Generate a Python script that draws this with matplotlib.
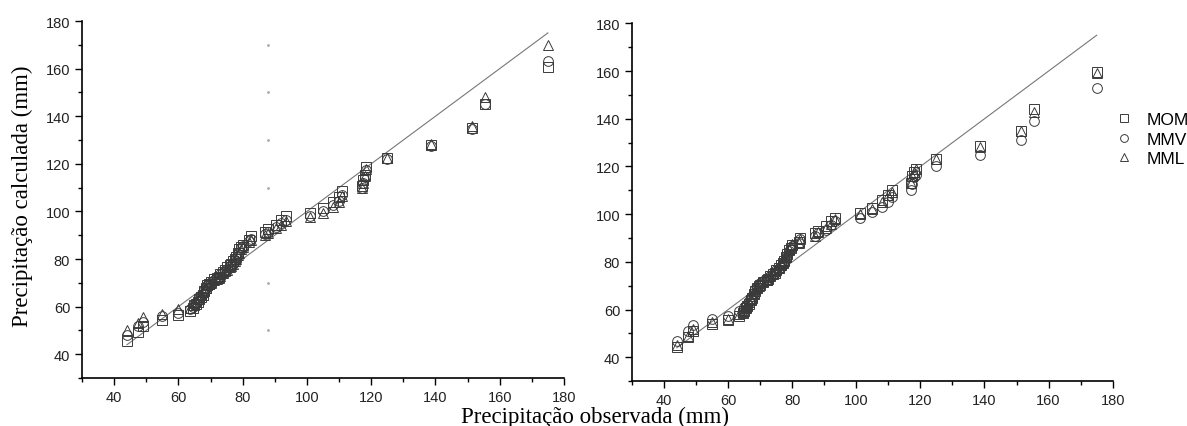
import numpy as np
import matplotlib.pyplot as plt
import matplotlib as mpl
from matplotlib.ticker import MultipleLocator

mpl.rcParams["font.family"] = ["Liberation Sans", "DejaVu Sans"]

# observed precipitation (mm), sorted
obs = [44.0, 47.5, 49.0, 55.0, 60.0, 63.5, 64.5, 65.0, 65.5, 66.0,
       66.5, 67.0, 67.5, 68.0, 68.5, 69.0, 69.5, 70.0, 71.0, 72.0,
       72.5, 73.0, 74.0, 74.5, 75.0, 76.0, 76.5, 77.0, 77.5, 78.0,
       78.5, 79.0, 79.5, 80.0, 82.0, 82.5, 87.0, 88.0, 90.5, 92.0,
       93.5, 101.0, 105.0, 108.0, 110.0, 111.0, 117.0, 117.5, 118.0, 118.5,
       125.0, 138.5, 151.5, 155.5, 175.0]

# left panel - calculated precipitation
left_mom = [45.5, 49.5, 52, 54.5, 56.5, 58, 59.5, 60.5, 61, 62,
            63, 64, 65, 66.5, 68, 69, 69.5, 70.5, 71.5, 72,
            72.5, 73.5, 74.5, 75.5, 76.5, 77.5, 78, 79, 80, 81,
            82.5, 84, 85, 86, 88, 89.5, 91.5, 92.5, 94.5, 96.5,
            98, 99.5, 101.5, 104, 106, 108.5, 110.5, 113, 115.5, 118.5,
            122.5, 128, 135, 145, 160.5]
left_mmv = [48, 52, 53.5, 56, 57.5, 59, 60, 61, 61.5, 62.5,
            63.5, 64.5, 65.5, 67, 68, 69, 69.5, 70.5, 71, 72,
            72.5, 73.5, 74.5, 75, 76, 77, 77.5, 78.5, 79.5, 80.5,
            82, 83, 84.5, 85.5, 87.5, 88.5, 90.5, 91.5, 93.5, 95,
            96.5, 98, 100, 102.5, 104.5, 107, 110, 112, 114.5, 117.5,
            122, 127.5, 134.5, 145, 163]
left_mml = [50, 53, 55.5, 57, 59, 59.5, 60.5, 61.5, 62, 63,
            64, 65, 66, 67, 68, 69, 69.5, 70, 71, 71.5,
            72, 73, 74, 75, 75.5, 76.5, 77, 78, 79, 80,
            81.5, 82.5, 84, 85, 87, 88, 90, 91, 93, 94.5,
            96, 97.5, 99.5, 102, 104, 106.5, 110, 112, 115, 118,
            122.5, 128.5, 136, 148, 170]

# right panel - calculated precipitation
right_mom = [44.5, 48.5, 51, 54, 55.5, 57.5, 58.5, 59.5, 60.5, 61.5,
             62.5, 64, 65, 66.5, 68, 69, 70, 70.5, 71.5, 72.5,
             73, 74, 75, 75.5, 76.5, 77.5, 78.5, 79.5, 80.5, 82,
             83.5, 85, 86, 87, 88.5, 90, 92, 93, 95, 97,
             98.5, 100.5, 102.5, 106, 108, 110, 113, 116, 117.5, 119,
             123, 128.5, 135, 144, 159.5]
right_mmv = [47, 51, 53.5, 56, 57.5, 59.5, 60, 61, 61.5, 62.5,
             63.5, 64.5, 65.5, 67, 68.5, 69.5, 70.5, 71, 72, 72.5,
             73, 74, 75, 75.5, 76.5, 77, 78, 79, 80, 81.5,
             83, 84.5, 85.5, 86.5, 88, 89.5, 91, 92, 93.5, 95.5,
             97, 98.5, 101, 103, 105, 107, 110, 112.5, 115.5, 116.5,
             120, 125, 131, 139, 153]
right_mml = [45, 49, 52, 55, 56, 58, 59, 60, 61, 62,
             63, 64.5, 65.5, 67, 68.5, 69.5, 70.5, 71, 72, 72.5,
             73.5, 74.5, 75.5, 76, 77, 78, 79, 80, 81, 82.5,
             84, 85.5, 86.5, 87.5, 88, 89.5, 91, 92.5, 94, 96,
             98, 100, 102, 105, 108, 109.5, 113, 116, 117.5, 119,
             123, 128, 135, 143, 159]

labels = ["MOM", "MMV", "MML"]
markers = ["s", "o", "^"]
line_x = [44, 175]

# dotted artefact line in left panel
art_x = 88
art_y = [50, 70, 90, 110, 130, 150, 170]

fig = plt.figure(figsize=(11.87, 4.27), dpi=100)
ax1 = fig.add_axes([0.0691, 0.1124, 0.406, 0.836])
ax2 = fig.add_axes([0.5324, 0.105, 0.405, 0.838])


def draw_panel(ax, series):
    ax.plot(line_x, line_x, color="#777777", lw=0.8, zorder=1)
    for vals, m, lab in zip(series, markers, labels):
        ax.plot(obs, vals, linestyle="none", marker=m, markersize=7,
                markerfacecolor="none", markeredgecolor="#3a3a3a",
                markeredgewidth=0.7, label=lab, zorder=2)
    ax.set_xlim(30, 180)
    ax.set_ylim(30, 180)
    ax.xaxis.set_minor_locator(MultipleLocator(10))
    ax.yaxis.set_minor_locator(MultipleLocator(10))
    ax.set_xticks([40, 60, 80, 100, 120, 140, 160, 180])
    ax.set_yticks([40, 60, 80, 100, 120, 140, 160, 180])
    ax.tick_params(which="major", direction="out", length=5, width=1,
                   labelsize=10.5, colors="black", labelcolor="#222222")
    ax.tick_params(which="minor", direction="out", length=3, width=1)
    for axis in ["top", "right"]:
        ax.spines[axis].set_visible(False)
    for axis in ["left", "bottom"]:
        ax.spines[axis].set_linewidth(1.2)


draw_panel(ax1, [left_mom, left_mmv, left_mml])
draw_panel(ax2, [right_mom, right_mmv, right_mml])

ax1.plot([art_x] * len(art_y), art_y, linestyle="none", marker="o",
         markersize=1.0, color="#aaaaaa", zorder=0)

ax2.legend(loc="center left", bbox_to_anchor=(0.932, 0.672),
           bbox_transform=fig.transFigure, frameon=False, fontsize=12.5,
           handlelength=1.0, handletextpad=0.8, labelspacing=0.25,
           markerscale=0.8, borderpad=0)

fig.text(0.019, 0.54, "Precipitação calculada (mm)", rotation=90,
         ha="center", va="center", fontsize=16.5, family="Liberation Serif")
fig.text(0.501, 0.022, "Precipitação observada (mm)", ha="center",
         va="center", fontsize=16.5, family="Liberation Serif")

fig.savefig("out.png", dpi=100)
